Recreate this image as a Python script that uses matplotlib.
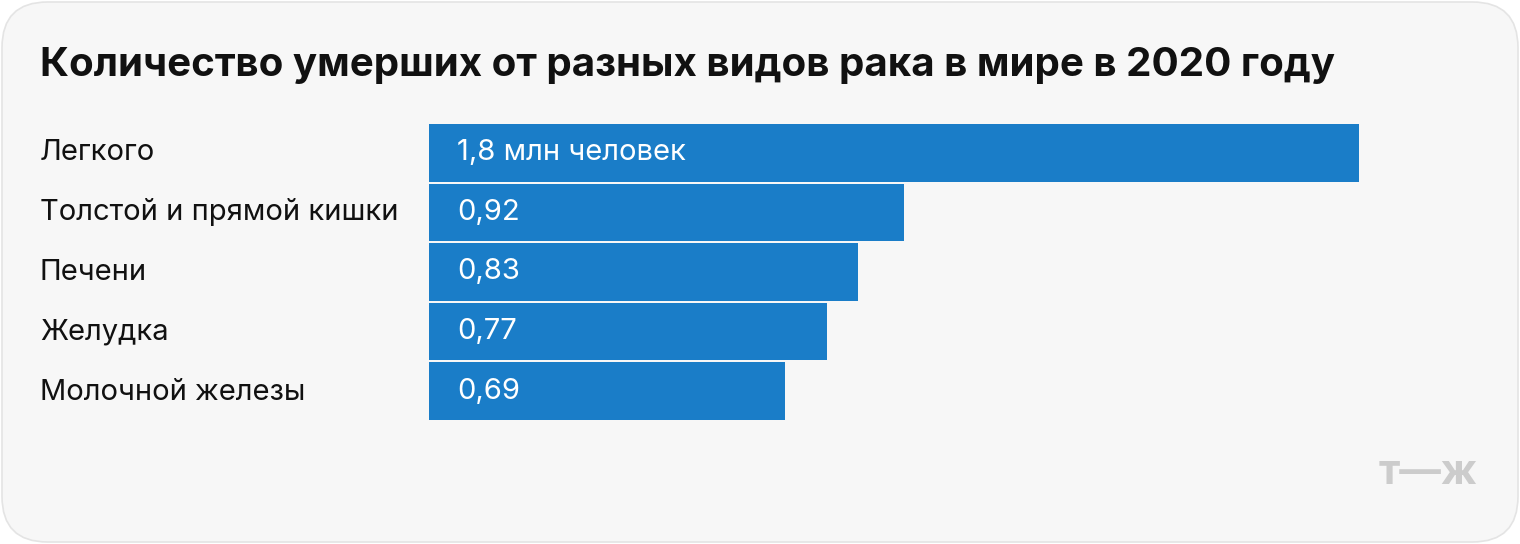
import matplotlib.pyplot as plt
from matplotlib.patches import FancyBboxPatch

plt.rcParams['font.family'] = ['Inter', 'DejaVu Sans']

categories = ['Легкого', 'Толстой и прямой кишки', 'Печени', 'Желудка', 'Молочной железы']
values = [1.8, 0.92, 0.83, 0.77, 0.69]
labels = ['1,8 млн человек', '0,92', '0,83', '0,77', '0,69']

W, H = 1520, 544
fig = plt.figure(figsize=(W / 100, H / 100), dpi=100)
fig.patch.set_facecolor('white')

box = FancyBboxPatch((2 / W, 2 / H), 1 - 4 / W, 1 - 4 / H,
                     boxstyle='round,pad=0,rounding_size=0.03',
                     transform=fig.transFigure, facecolor='#f7f7f7',
                     edgecolor='#e4e4e4', linewidth=1.2, mutation_aspect=W / H,
                     zorder=-10)
fig.patches.append(box)

fig.text(40 / W, 1 - 66 / H, 'Количество умерших от разных видов рака в мире в 2020 году',
         fontsize=29, fontweight='bold', color='#111111', va='center', ha='left')

ax = fig.add_axes([429 / W, (H - 421) / H, 930 / W, 298 / H])
ax.set_facecolor('none')
y = list(range(len(categories)))
ax.barh(y, values, height=0.965, color='#1a7dc8')
ax.set_xlim(0, 1.8)
ax.set_ylim(len(categories) - 0.5, -0.5)
ax.axis('off')

for i, (cat, lab) in enumerate(zip(categories, labels)):
    ax.text(0.055, i, lab, color='white', fontsize=21, va='center', ha='left')
    fig.text(40 / W, (H - (152 + 60 * i)) / H, cat, fontsize=21, color='#111111',
             va='center', ha='left')

fig.text(1478 / W, 1 - 473 / H, 'т—ж', fontsize=30, color='#cccccc',
         fontweight='bold', va='center', ha='right')

fig.savefig('out.png', dpi=100)
